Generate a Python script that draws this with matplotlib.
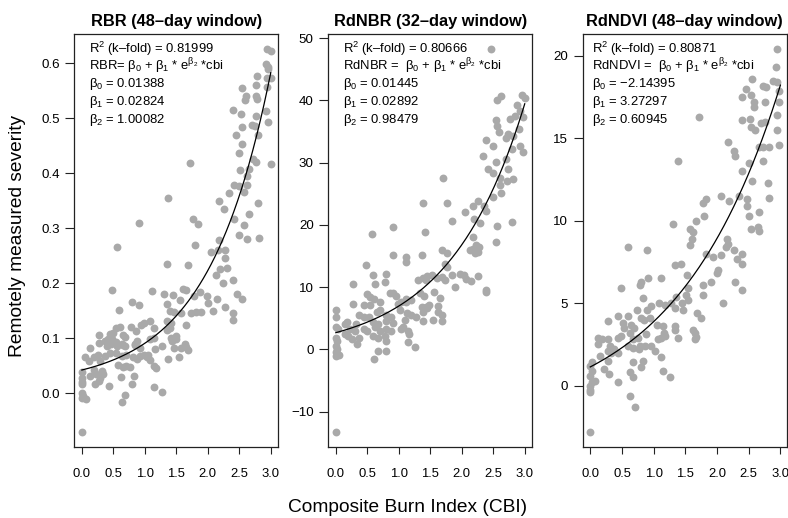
import numpy as np
import matplotlib
matplotlib.use("Agg")
import matplotlib.pyplot as plt

plt.rcParams["font.family"] = ["Liberation Sans", "DejaVu Sans"]
plt.rcParams["mathtext.fontset"] = "custom"
plt.rcParams["mathtext.rm"] = "Liberation Sans"
plt.rcParams["mathtext.it"] = "Liberation Sans"
plt.rcParams["mathtext.bf"] = "Liberation Sans:bold"
plt.rcParams["axes.unicode_minus"] = True

# ---- data ----
rbr_cbi = [
    2.94, 3.00, 2.92, 2.95, 2.95, 2.78, 2.55, 2.76, 2.94, 2.60, 2.59, 2.76, 2.78, 3.00, 2.94,
    2.40, 2.53, 2.77, 2.92, 2.71, 2.75, 2.55, 2.95, 2.45, 2.80, 2.54, 2.49, 2.72, 2.76, 3.00,
    1.71, 2.51, 2.65, 2.63, 1.37, 2.41, 2.49, 2.63, 2.57, 2.33, 2.18, 2.26, 2.79, 2.65, 2.41,
    1.77, 1.85, 0.90, 2.57, 2.49, 2.63, 2.82, 1.79, 0.56, 2.18, 2.05, 2.27, 2.28,
    2.16, 1.36, 1.68, 2.30, 2.20, 2.13, 2.24, 2.40, 0.48, 1.11, 1.60, 1.65, 1.30, 1.44, 1.78,
    1.88, 1.98, 2.47, 2.54, 2.15, 0.79, 0.91, 1.56, 2.00, 2.28, 0.59, 1.36, 1.40, 1.46, 1.73,
    1.81, 1.89, 2.08, 2.40, 2.40, 1.58, 1.08, 0.98, 0.94, 0.78, 1.35, 1.42, 1.65, 0.54, 0.61,
    1.14, 1.35, 1.40, 0.50, 0.44, 0.28, 0.86, 0.65, 0.69, 1.50, 1.42, 1.14, 1.08, 0.42, 0.37,
    0.48, 0.55, 0.63, 0.87, 0.84, 1.49, 0.28, 0.13, 0.40, 0.47, 0.56, 0.66, 0.69, 0.84, 0.92,
    1.28, 1.43, 1.47, 1.58, 1.64, 1.66, 0.44, 0.54, 0.25, 0.63, 0.70, 0.98, 1.05, 1.16, 1.68,
    0.05, 0.12, 0.20, 0.29, 0.37, 0.82, 0.88, 0.92, 1.03, 1.09, 1.55, 1.37, 0.57, 0.65, 0.76,
    0.70, 1.14, 1.18, 0.20, 0.32, 0.13, 0.23, 0.33, 0.62, 0.83, 0.29, 0.00, 0.00, 0.00, 0.00,
    0.21, 0.27, 0.43, 0.80, 0.00, 0.02, 0.07, 0.00, 0.69, 1.15, 1.27, 0.63, 0.00,
]
rbr_val = [
    0.625, 0.622, 0.598, 0.593, 0.589, 0.577, 0.555, 0.561, 0.572, 0.541, 0.532, 0.541, 0.535, 0.573, 0.557,
    0.514, 0.507, 0.504, 0.512, 0.488, 0.485, 0.484, 0.493, 0.469, 0.469, 0.452, 0.437, 0.425, 0.421, 0.417,
    0.419, 0.406, 0.408, 0.395, 0.355, 0.379, 0.377, 0.378, 0.365, 0.364, 0.349, 0.334, 0.346, 0.326, 0.317,
    0.317, 0.308, 0.310, 0.305, 0.288, 0.281, 0.282, 0.270, 0.266, 0.279, 0.256, 0.261, 0.245,
    0.260, 0.235, 0.233, 0.227, 0.225, 0.215, 0.200, 0.206, 0.187, 0.186, 0.190, 0.188, 0.180, 0.179, 0.177,
    0.184, 0.176, 0.181, 0.171, 0.171, 0.165, 0.161, 0.170, 0.164, 0.156, 0.151, 0.162, 0.150, 0.147, 0.145,
    0.147, 0.148, 0.149, 0.133, 0.145, 0.146, 0.131, 0.128, 0.124, 0.120, 0.131, 0.128, 0.124, 0.118, 0.120,
    0.118, 0.115, 0.118, 0.110, 0.107, 0.106, 0.113, 0.105, 0.102, 0.104, 0.100, 0.101, 0.098, 0.098, 0.095,
    0.099, 0.093, 0.090, 0.095, 0.090, 0.099, 0.092, 0.082, 0.085, 0.089, 0.085, 0.088, 0.086, 0.087, 0.083,
    0.086, 0.094, 0.083, 0.082, 0.090, 0.084, 0.073, 0.073, 0.070, 0.068, 0.069, 0.070, 0.069, 0.080, 0.079,
    0.065, 0.059, 0.065, 0.059, 0.068, 0.065, 0.062, 0.067, 0.065, 0.060, 0.065, 0.062, 0.052, 0.048, 0.048,
    0.049, 0.050, 0.045, 0.042, 0.040, 0.032, 0.034, 0.035, 0.030, 0.031, 0.028, 0.039, 0.028, 0.021, 0.017,
    0.017, 0.023, 0.013, 0.016, 0.001, -0.005, -0.011, -0.008, -0.003, 0.012, 0.002, -0.016, -0.070,
]

rdnbr_cbi = [
    2.47, 2.63, 2.56, 2.95, 3.00, 2.87, 2.92, 2.98, 2.84, 2.76, 2.55, 2.56, 2.59, 2.91, 2.74,
    2.70, 2.39, 2.82, 2.50, 2.93, 2.80, 2.97, 2.34, 2.55, 2.71, 2.42, 2.50, 2.74, 1.70, 2.61,
    2.72, 2.81, 2.61, 2.63, 1.77, 2.26, 2.18, 1.38, 2.35, 2.38, 2.50, 2.05, 2.20, 2.29, 1.85,
    2.79, 2.56, 0.90, 0.58, 1.41, 2.18, 2.22, 2.27, 2.18, 2.55, 1.68, 1.76, 0.91, 1.12, 1.37,
    2.13, 2.21, 2.26, 1.11, 0.48, 1.73, 1.76, 2.26, 2.39, 2.38, 0.80, 0.59, 1.31, 1.38, 1.43,
    1.44, 1.52, 1.60, 1.68, 1.85, 1.97, 2.03, 2.07, 2.14, 0.28, 0.62, 0.78, 1.73, 1.90, 0.49,
    0.54, 0.60, 0.86, 0.91, 0.96, 1.12, 1.33, 1.40, 1.56, 1.65, 0.28, 0.44, 0.54, 0.70, 0.99,
    1.04, 1.12, 1.20, 1.37, 1.43, 1.48, 1.63, 0.00, 0.70, 0.65, 1.02, 0.37, 0.44, 0.52, 0.80,
    0.87, 1.13, 1.20, 1.44, 1.39, 1.63, 1.68, 0.00, 0.17, 0.14, 0.32, 0.59, 0.67, 0.80, 0.91,
    1.10, 1.28, 1.39, 1.54, 1.68, 0.00, 0.04, 0.22, 0.30, 0.44, 0.50, 0.62, 0.70, 0.80, 0.88,
    1.04, 1.07, 0.14, 0.20, 0.36, 0.59, 0.67, 0.78, 1.15, 1.16, 0.00, 0.02, 0.25, 0.33, 0.80,
    1.14, 1.25, 0.00, 0.02, 0.00, 0.05, 0.00, 0.67, 0.80, 0.61, 0.00,
]
rdnbr_val = [
    48.2, 40.7, 40.1, 40.8, 40.3, 39.2, 38.3, 37.3, 37.5, 37.0, 36.9, 35.9, 35.0, 35.4, 34.6,
    33.9, 33.7, 34.3, 32.7, 32.7, 32.2, 31.7, 31.0, 30.1, 30.6, 28.9, 28.4, 28.9, 27.6, 27.6,
    27.1, 27.3, 26.4, 25.1, 23.6, 23.9, 23.1, 23.5, 23.1, 22.2, 24.5, 22.0, 20.9, 20.3, 20.6,
    20.5, 19.8, 19.6, 18.6, 18.8, 18.1, 16.8, 16.4, 16.2, 17.2, 15.9, 15.5, 15.1, 14.9, 15.1,
    15.9, 15.5, 15.7, 14.1, 13.5, 13.8, 13.2, 11.8, 9.2, 9.6, 12.1, 11.9, 11.1, 11.5, 11.2,
    11.8, 12.0, 11.5, 11.6, 11.9, 12.1, 12.0, 11.3, 11.0, 10.5, 10.5, 10.9, 11.2, 10.0, 8.9,
    8.5, 8.1, 9.0, 9.1, 8.6, 8.1, 9.0, 8.6, 9.2, 8.2, 7.3, 7.1, 7.1, 7.6, 7.3,
    7.7, 7.6, 8.0, 6.8, 6.9, 7.1, 7.0, 6.3, 6.3, 6.0, 6.3, 5.6, 5.2, 5.2, 5.5,
    5.2, 5.8, 5.5, 6.6, 6.0, 6.0, 5.5, 5.2, 4.4, 4.1, 4.1, 4.4, 4.1, 4.5, 4.3,
    4.7, 5.2, 4.5, 4.8, 4.5, 3.6, 3.3, 3.3, 3.0, 3.3, 3.0, 3.6, 3.0, 3.3, 3.0,
    3.3, 3.6, 2.5, 2.2, 1.9, 2.2, 1.9, 2.2, 3.0, 2.5, 1.9, 1.3, 1.7, 0.9, 1.4,
    1.2, 0.4, 0.6, 0.1, -0.4, -0.9, -1.0, -0.2, -0.2, -1.5, -13.2,
]

rdndvi_cbi = [
    2.95, 2.93, 2.55, 2.88, 2.95, 2.72, 2.77, 2.45, 2.98, 2.54, 2.40, 2.59, 2.59, 2.76, 2.97,
    1.72, 2.40, 2.52, 2.95, 2.70, 2.76, 2.54, 2.60, 2.95, 2.18, 2.66, 2.72, 2.82, 2.98, 2.26,
    2.28, 1.38, 2.51, 2.73, 2.40, 2.55, 2.80, 2.06, 2.35, 2.47, 2.82, 1.83, 1.78, 2.19, 2.48,
    1.80, 2.66, 2.50, 1.67, 1.31, 1.57, 1.62, 2.54, 2.65, 2.66, 0.59, 0.90, 1.57, 1.61, 2.16,
    2.18, 2.14, 2.27, 2.39, 1.83, 1.94, 2.06, 2.31, 2.40, 1.34, 1.43, 2.01, 2.00, 1.53, 2.28,
    0.91, 0.80, 0.78, 1.11, 1.90, 1.78, 1.78, 1.54, 2.39, 0.48, 1.51, 1.54, 1.36, 2.09, 1.09,
    1.18, 0.84, 1.27, 1.34, 1.44, 1.46, 1.68, 1.74, 0.43, 0.60, 0.73, 0.89, 0.96, 0.51, 0.54,
    0.28, 0.64, 0.69, 0.80, 0.85, 0.95, 1.05, 1.14, 1.17, 1.34, 1.34, 1.62, 1.65, 0.13, 0.19,
    0.28, 0.43, 0.62, 0.48, 0.68, 0.75, 0.88, 1.07, 1.12, 1.18, 1.38, 1.65, 1.67, 0.13, 0.31,
    0.38, 0.28, 0.32, 0.28, 0.60, 0.67, 0.77, 0.78, 0.86, 0.96, 1.02, 1.11, 0.16, 0.43, 0.68,
    0.83, 0.80, 0.02, 0.00, 0.03, 0.00, 0.07, 0.03, 0.00, 0.00, 0.00, 0.21, 0.29, 0.43, 0.62,
    0.68, 1.14, 1.26, 0.62, 0.71, 0.00,
]
rdndvi_val = [
    20.4, 19.3, 18.6, 18.5, 18.4, 18.2, 18.1, 18.0, 17.9, 17.6, 17.5, 17.2, 16.9, 17.2, 17.2,
    16.3, 16.1, 16.2, 16.4, 15.9, 16.0, 15.7, 15.5, 15.5, 14.8, 14.5, 14.5, 14.5, 14.6, 14.2,
    13.9, 13.6, 13.5, 13.6, 13.0, 12.4, 12.3, 11.5, 11.5, 11.3, 11.4, 11.3, 11.1, 11.2, 10.9,
    10.3, 10.5, 10.3, 10.0, 9.8, 9.5, 9.3, 9.5, 9.6, 9.4, 8.4, 8.2, 8.5, 8.9, 8.9,
    8.6, 8.4, 8.2, 8.0, 8.0, 7.8, 7.9, 7.7, 7.4, 7.3, 7.4, 7.0, 6.85, 6.7, 6.3,
    6.55, 6.3, 6.1, 6.55, 6.3, 6.1, 5.5, 5.9, 5.8, 5.9, 5.5, 5.2, 5.4, 5.0, 5.0,
    4.9, 5.3, 5.0, 4.7, 5.0, 4.6, 4.4, 4.1, 4.2, 4.2, 4.6, 4.6, 4.8, 3.8, 3.5,
    3.9, 3.7, 3.5, 4.1, 4.0, 4.1, 3.7, 3.6, 3.2, 3.6, 3.4, 3.4, 3.2, 2.9, 2.8,
    2.8, 2.9, 3.2, 3.0, 2.8, 2.9, 3.1, 2.8, 2.9, 3.0, 2.9, 2.8, 2.95, 2.5, 2.4,
    2.2, 2.1, 2.0, 1.5, 2.4, 2.3, 2.2, 2.4, 2.4, 2.4, 2.1, 1.75, 1.8, 2.0, 1.4,
    1.5, 1.1, 1.4, 1.2, 0.9, 0.6, 0.3, 0.2, 0.0, -0.3, -0.4, 1.0, 0.7, 0.2, 0.8,
    0.5, 0.9, 0.5, -0.65, -1.3, -2.8,
]

# fitted exponential curves y = b0 + b1 * exp(b2 * cbi)
rbr_coef = (0.01388, 0.02824, 1.00082)
rdnbr_curve = (-0.59, 3.29, 0.833)  # curve as drawn in the picture
rdndvi_coef = (-2.14395, 3.27297, 0.60945)

titles = ["RBR (48\u2013day window)", "RdNBR (32\u2013day window)", "RdNDVI (48\u2013day window)"]
notes = [
    ["R$^2$ (k\u2013fold) = 0.81999",
     r"RBR= $\beta_0$ + $\beta_1$ * e$^{\beta_2}$ *cbi",
     r"$\beta_0$ = 0.01388", r"$\beta_1$ = 0.02824", r"$\beta_2$ = 1.00082"],
    ["R$^2$ (k\u2013fold) = 0.80666",
     r"RdNBR =  $\beta_0$ + $\beta_1$ * e$^{\beta_2}$ *cbi",
     r"$\beta_0$ = 0.01445", r"$\beta_1$ = 0.02892", r"$\beta_2$ = 0.98479"],
    ["R$^2$ (k\u2013fold) = 0.80871",
     r"RdNDVI =  $\beta_0$ + $\beta_1$ * e$^{\beta_2}$ *cbi",
     "$\\beta_0$ = \u22122.14395", r"$\beta_1$ = 3.27297", r"$\beta_2$ = 0.60945"],
]
yticks = [
    [0.0, 0.1, 0.2, 0.3, 0.4, 0.5, 0.6],
    [-10, 0, 10, 20, 30, 40, 50],
    [0, 5, 10, 15, 20],
]
ytick_fmt = ["{:.1f}", "{:d}", "{:d}"]
xticks = [0.0, 0.5, 1.0, 1.5, 2.0, 2.5, 3.0]

panels = [
    (rbr_cbi, rbr_val, rbr_coef),
    (rdnbr_cbi, rdnbr_val, rdnbr_curve),
    (rdndvi_cbi, rdndvi_val, rdndvi_coef),
]
lefts = [74.3, 328.3, 582.7]
note_x = [0.072, 0.070, 0.047]

W, H = 788, 518
fig = plt.figure(figsize=(W / 100, H / 100), dpi=100)

for i, (cbi, val, coef) in enumerate(panels):
    ax = fig.add_axes([lefts[i] / W, 71 / H, 204 / W, 413 / H])
    cbi = np.array(cbi)
    val = np.array(val)
    ax.scatter(cbi, val, s=32, color="#a9a9a9", linewidths=0, zorder=2)
    xs = np.linspace(0, 3, 200)
    b0, b1, b2 = coef
    ax.plot(xs, b0 + b1 * np.exp(b2 * xs), color="black", lw=0.9, zorder=3)

    # R-style 4% axis extension
    xr = cbi.max() - cbi.min()
    ax.set_xlim(cbi.min() - 0.04 * xr, cbi.max() + 0.04 * xr)
    yr = val.max() - val.min()
    ax.set_ylim(val.min() - 0.04 * yr, val.max() + 0.04 * yr)

    ax.set_xticks(xticks)
    ax.set_xticklabels(["{:.1f}".format(t) for t in xticks])
    ax.set_yticks(yticks[i])
    ax.set_yticklabels([ytick_fmt[i].format(t).replace("-", "\u2212") for t in yticks[i]])
    ax.tick_params(axis="x", length=5.3, width=0.8, pad=9.5, labelsize=9.4, color="#222222")
    ax.tick_params(axis="y", length=6.5, width=0.8, pad=4, labelsize=9.6, color="#222222")
    for sp in ax.spines.values():
        sp.set_linewidth(0.9)
        sp.set_color("#222222")

    ax.set_title(titles[i], fontsize=11.8, fontweight="bold", pad=6)
    for k, line in enumerate(notes[i]):
        ax.text(note_x[i], 0.965 - k * 0.0431, line, transform=ax.transAxes,
                ha="left", va="center", fontsize=9.4)

fig.text(18 / W, 1 - 236 / H, "Remotely measured severity", rotation=90,
         ha="center", va="center", fontsize=13.8)
fig.text(407.5 / W, 1 - 507 / H, "Composite Burn Index (CBI)",
         ha="center", va="center", fontsize=13.8)

fig.savefig("out.png", dpi=100)
